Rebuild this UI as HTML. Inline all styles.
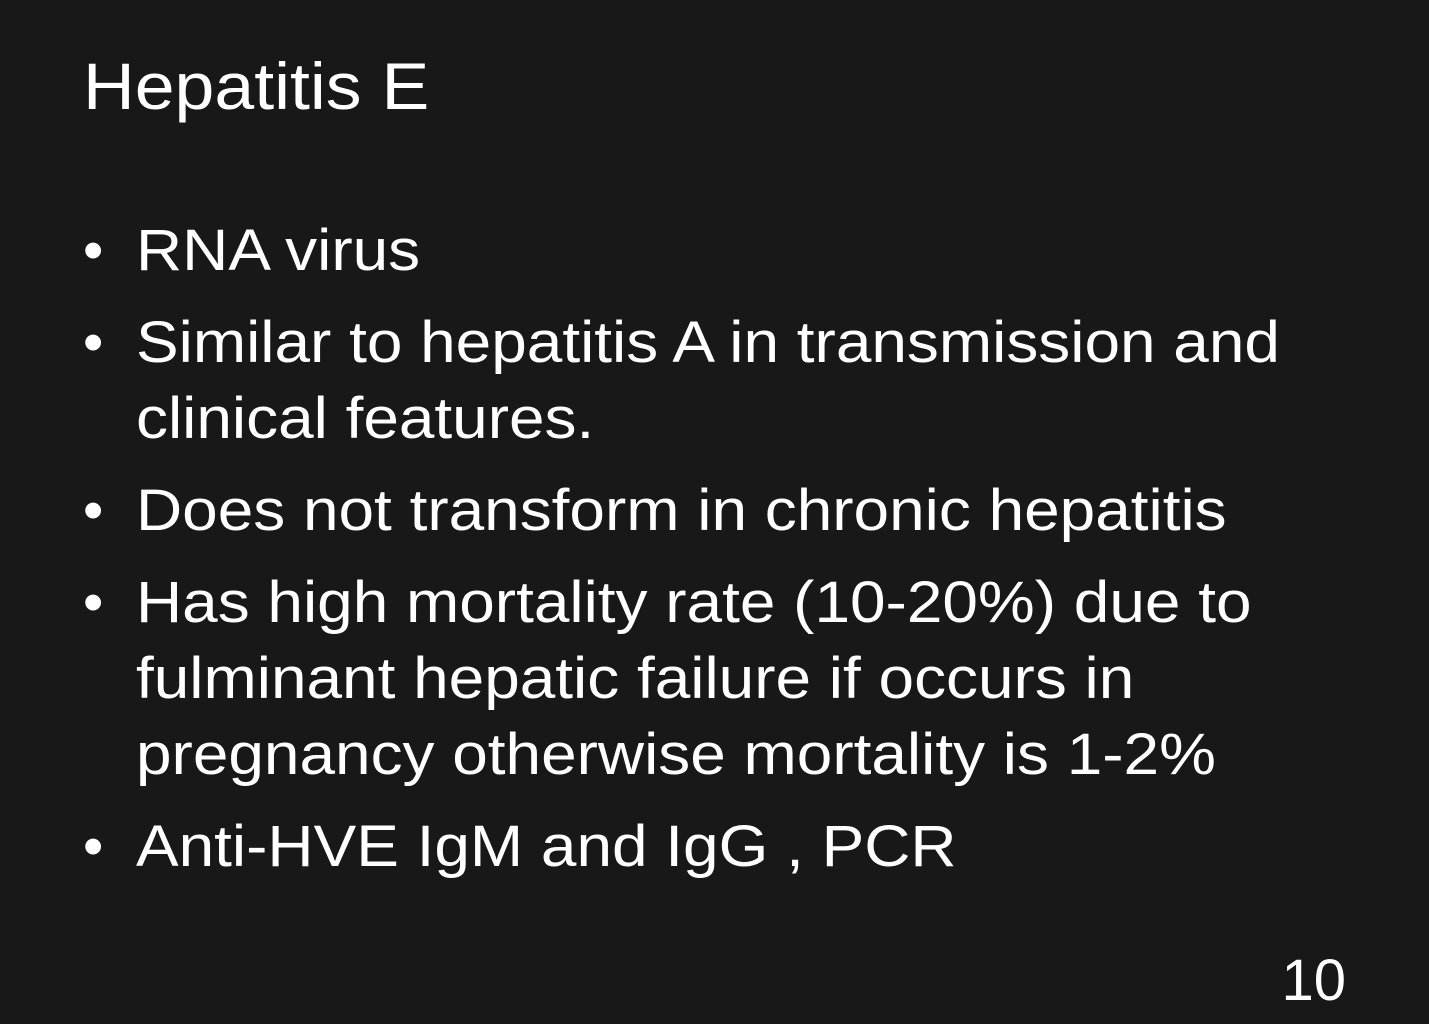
<!DOCTYPE html>
<html><head><meta charset="utf-8"><style>
html,body{margin:0;padding:0;}
body{width:1429px;height:1024px;background:#181818;position:relative;overflow:hidden;font-family:"Liberation Sans",Arial,sans-serif;color:#fff;}
.l{position:absolute;font-size:58px;line-height:58px;white-space:nowrap;left:136px;transform:scaleX(1.102);transform-origin:0 0;}
.b{position:absolute;font-size:58px;line-height:58px;left:83px;}
</style></head><body>
<div style="position:absolute;left:83px;top:53px;font-size:66px;line-height:66px;white-space:nowrap;transform:scaleX(1.085);transform-origin:0 0;">Hepatitis E</div>
<div>
<div class="b" style="top:222px">•</div>
<div class="l" style="top:222px">RNA virus</div>
<div class="b" style="top:314px">•</div>
<div class="l" style="top:314px">Similar to hepatitis A in transmission and</div>
<div class="l" style="top:390px">clinical features.</div>
<div class="b" style="top:482px">•</div>
<div class="l" style="top:482px">Does not transform in chronic hepatitis</div>
<div class="b" style="top:574px">•</div>
<div class="l" style="top:574px">Has high mortality rate (10-20%) due to</div>
<div class="l" style="top:650px">fulminant hepatic failure if occurs in</div>
<div class="l" style="top:726px">pregnancy otherwise mortality is 1-2%</div>
<div class="b" style="top:818px">•</div>
<div class="l" style="top:818px">Anti-HVE IgM and IgG , PCR</div>
</div>
<div style="position:absolute;right:83px;top:952px;font-size:58px;line-height:58px;">10</div>
</body></html>
